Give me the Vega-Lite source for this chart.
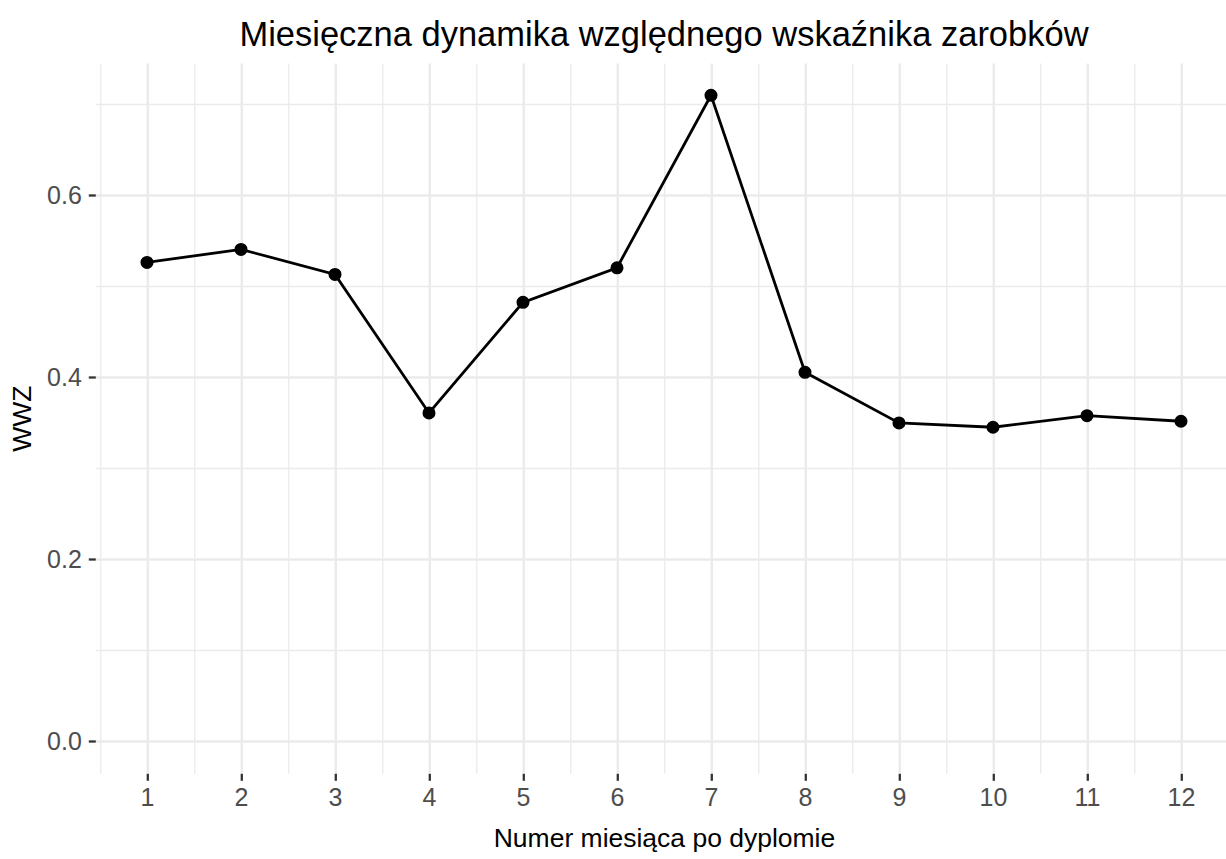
{
  "$schema": "https://vega.github.io/schema/vega-lite/v6.json",
  "width": 1137.4,
  "height": 710.3,
  "autosize": {"type": "none"},
  "padding": {"left": 95.3, "top": 63, "right": 0, "bottom": 85.7},
  "background": "white",
  "title": {
    "text": "Miesięczna dynamika względnego wskaźnika zarobków",
    "fontSize": 34.5,
    "font": "Liberation Sans",
    "fontWeight": "normal",
    "color": "black",
    "anchor": "middle",
    "frame": "group",
    "baseline": "alphabetic",
    "offset": -17
  },
  "config": {"view": {"stroke": null}},
  "data": {
    "values": [
      {"miesiac": 1, "wwz": 0.5261},
      {"miesiac": 2, "wwz": 0.5404},
      {"miesiac": 3, "wwz": 0.5129},
      {"miesiac": 4, "wwz": 0.3606},
      {"miesiac": 5, "wwz": 0.4822},
      {"miesiac": 6, "wwz": 0.5202},
      {"miesiac": 7, "wwz": 0.7098},
      {"miesiac": 8, "wwz": 0.4053},
      {"miesiac": 9, "wwz": 0.3496},
      {"miesiac": 10, "wwz": 0.3449},
      {"miesiac": 11, "wwz": 0.3576},
      {"miesiac": 12, "wwz": 0.3515}
    ]
  },
  "encoding": {
    "x": {
      "field": "miesiac",
      "type": "quantitative",
      "scale": {"domain": [0.45, 12.55], "nice": false, "zero": false},
      "axis": {
        "title": "Numer miesiąca po dyplomie",
        "values": [0.5, 1, 1.5, 2, 2.5, 3, 3.5, 4, 4.5, 5, 5.5, 6, 6.5, 7, 7.5, 8, 8.5, 9, 9.5, 10, 10.5, 11, 11.5, 12, 12.5],
        "labelExpr": "datum.value % 1 == 0 ? format(datum.value, 'd') : ''",
        "domain": false,
        "grid": true,
        "gridColor": "#EBEBEB",
        "gridWidth": {"condition": {"test": "datum.value % 1 != 0", "value": 1.3}, "value": 2.5},
        "ticks": true,
        "tickColor": "#333333",
        "tickOpacity": {"condition": {"test": "datum.value % 1 != 0", "value": 0}, "value": 1},
        "tickSize": 7,
        "tickWidth": 2.3,
        "labelFontSize": 25,
        "labelColor": "#4D4D4D",
        "labelFont": "Liberation Sans",
        "labelPadding": 5,
        "labelFlush": false,
        "labelOverlap": false,
        "titleFontSize": 26.5,
        "titleFont": "Liberation Sans",
        "titleFontWeight": "normal",
        "titleColor": "black",
        "titlePadding": 15
      }
    },
    "y": {
      "field": "wwz",
      "type": "quantitative",
      "scale": {"domain": [-0.0355, 0.7453], "nice": false, "zero": false},
      "axis": {
        "title": "WWZ",
        "values": [0, 0.1, 0.2, 0.3, 0.4, 0.5, 0.6, 0.7],
        "format": ".1f",
        "domain": false,
        "grid": true,
        "gridColor": "#EBEBEB",
        "gridWidth": {"condition": {"test": "round(datum.value * 10) % 2 == 1", "value": 1.3}, "value": 2.5},
        "ticks": true,
        "tickColor": "#333333",
        "tickOpacity": {"condition": {"test": "round(datum.value * 10) % 2 == 1", "value": 0}, "value": 1},
        "tickSize": 7,
        "tickWidth": 2.3,
        "labelExpr": "round(datum.value * 10) % 2 == 0 ? datum.label : ''",
        "labelFontSize": 25,
        "labelColor": "#4D4D4D",
        "labelFont": "Liberation Sans",
        "labelPadding": 7,
        "labelFlush": false,
        "labelOverlap": false,
        "titleFontSize": 26.5,
        "titleFont": "Liberation Sans",
        "titleFontWeight": "normal",
        "titleColor": "black",
        "titlePadding": 10
      }
    }
  },
  "layer": [
    {"mark": {"type": "line", "color": "black", "strokeWidth": 2.8}},
    {"mark": {"type": "point", "filled": true, "color": "black", "size": 170, "opacity": 1}}
  ]
}
